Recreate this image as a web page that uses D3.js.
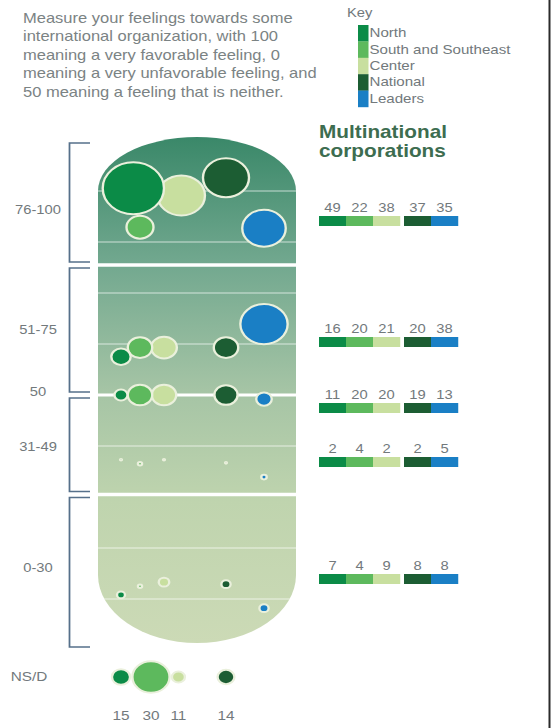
<!DOCTYPE html>
<html>
<head>
<meta charset="utf-8">
<script src="https://cdn.jsdelivr.net/npm/d3@7"></script>
<style>
  html, body { margin: 0; padding: 0; background: #fff; }
  svg { display: block; }
  text { font-family: "Liberation Sans", Arial, Helvetica, sans-serif; }
</style>
</head>
<body>
<svg id="chart" width="553" height="728"></svg>
<script>
// ---- data ---------------------------------------------------------------
const regions = ["North", "South and Southeast", "Center", "National", "Leaders"];
const bands = ["76-100", "51-75", "50", "31-49", "0-30"];

// share of respondents (%) in each feeling band, per region
const northShare    = [49, 16, 11, 2, 7];
const southShare    = [22, 20, 20, 4, 4];
const centerShare   = [38, 21, 20, 2, 9];
const nationalShare = [37, 20, 19, 2, 8];
const leadersShare  = [35, 38, 13, 5, 8];

// mean feeling score of the respondents inside each band
const northScore    = [90.5, 57.5, 50, 37.3, 10.8];
const southScore    = [82.9, 59.3, 50, 36.5, 12.5];
const centerScore   = [89.2, 59.3, 50, 37.3, 13.3];
const nationalScore = [92.6, 59.3, 50, 36.7, 12.9];
const leadersScore  = [82.7, 63.9, 49.2, 33.9, 8.2];

// "no answer / don't know" share per region (leaders: none)
const nsdShare = [15, 30, 11, 14, null];
const nsdLabel = "NS/D";

// band limits on the 0-100 scale and the minor grid
const bandLimits = [[100, 75.5], [75.5, 50], [50, 30.5], [30.5, 0]];
const bandBreaks = [75.5, 50, 30.5];
const gridTicks  = [90, 80, 70, 60, 40, 20, 10];

const questionLines = [
  "Measure your feelings towards some",
  "international organization, with 100",
  "meaning a very favorable feeling, 0",
  "meaning a very unfavorable feeling, and",
  "50 meaning a feeling that is neither."
];
const titleLines = ["Multinational", "corporations"];
const keyTitle = "Key";

// ---- layout -------------------------------------------------------------
const W = 553, H = 728;
const SX = 1.18;                 // horizontal stretch of the whole graphic
const ox = v => v / SX;          // page x -> drawing x

const colors = ["#0b8b47", "#5db95d", "#c8df9f", "#1c5d33", "#1a7fc5"];
const textGrey = "#72797c";
const shares = [northShare, southShare, centerShare, nationalShare, leadersShare];
const scores = [northScore, southScore, centerScore, nationalScore, leadersScore];

const y = d3.scaleLinear().domain([0, 100]).range([650, 140]);
const colX = d3.scaleOrdinal().domain(regions).range([121, 140, 164, 226, 264].map(ox));
const rOuter = d3.scaleLinear().domain([0, 50]).range([0.6, 27.5]);
const color = d3.scaleOrdinal().domain(regions).range(colors);

const rowLabelY = [210, 330, 392, 447, 568];
const barTop    = [216, 337, 403, 457, 574];
const nsdY = 677;

const svg = d3.select("#chart");
const defs = svg.append("defs");
const root = svg.append("g").attr("transform", `scale(${SX},1)`);

// ---- question text ------------------------------------------------------
root.append("g").selectAll("text").data(questionLines).join("text")
  .attr("x", ox(23)).attr("y", (d, i) => 23 + i * 18.5)
  .attr("font-size", 14).attr("fill", "#7b8384").text(d => d);

// ---- key ----------------------------------------------------------------
const key = root.append("g");
key.append("text").attr("x", ox(347)).attr("y", 17)
  .attr("font-size", 12.5).attr("fill", textGrey).text(keyTitle);
const keyRow = key.selectAll("g.row").data(regions).join("g").attr("class", "row");
keyRow.append("rect")
  .attr("x", ox(358)).attr("width", ox(10.5))
  .attr("y", (d, i) => 25 + i * 16.4).attr("height", 16.6)
  .attr("fill", d => color(d));
keyRow.append("text")
  .attr("x", ox(369.5)).attr("y", (d, i) => 25 + i * 16.4 + 12.2)
  .attr("font-size", 12.8).attr("fill", textGrey).text(d => d);

// ---- title --------------------------------------------------------------
root.append("g").selectAll("text").data(titleLines).join("text")
  .attr("x", ox(319)).attr("y", (d, i) => 138 + i * 19.5)
  .attr("font-size", 17.6).attr("font-weight", "bold").attr("fill", "#3d6d50")
  .text(d => d);

// ---- capsule ------------------------------------------------------------
const L = ox(98), R = ox(296);
const capTop = y(100) - 3, capBot = y(0) - 7;
const domeH = 54, baseH = 68;
const rx = (R - L) / 2;
const capPath = `M${L},${capTop + domeH} A${rx},${domeH} 0 0 1 ${R},${capTop + domeH}` +
  ` L${R},${capBot - baseH} A${rx},${baseH} 0 0 1 ${L},${capBot - baseH} Z`;

const grad = defs.append("linearGradient").attr("id", "capGrad")
  .attr("gradientUnits", "userSpaceOnUse")
  .attr("x1", 0).attr("x2", 0).attr("y1", capTop).attr("y2", capBot);
[[0, "#3a8869"], [0.25, "#72a88f"], [0.5, "#a5c4a5"], [0.72, "#bfd4ae"], [1, "#ccdab6"]]
  .forEach(([o, c]) => grad.append("stop").attr("offset", o).attr("stop-color", c));

defs.append("clipPath").attr("id", "capClip").append("path").attr("d", capPath);

root.append("path").attr("d", capPath).attr("fill", "url(#capGrad)");

const grid = root.append("g").attr("clip-path", "url(#capClip)");
grid.selectAll("line.minor").data(gridTicks).join("line").attr("class", "minor")
  .attr("x1", L).attr("x2", R).attr("y1", d => y(d)).attr("y2", d => y(d))
  .attr("stroke", "#ffffff").attr("stroke-opacity", 0.45).attr("stroke-width", 1.4);
grid.selectAll("line.major").data(bandBreaks).join("line").attr("class", "major")
  .attr("x1", L).attr("x2", R).attr("y1", d => y(d)).attr("y2", d => y(d))
  .attr("stroke", "#ffffff").attr("stroke-width", d => d === 50 ? 3 : 3.6);

// ---- brackets and band labels ------------------------------------------
root.append("g").selectAll("path").data(bandLimits).join("path")
  .attr("d", ([hi, lo]) => `M${ox(90)},${y(hi) + 3} H${ox(69.5)} V${y(lo) - 3} H${ox(90)}`)
  .attr("fill", "none").attr("stroke", "#56708a").attr("stroke-width", 1.5);

root.append("g").selectAll("text").data(bands).join("text")
  .attr("x", ox(38)).attr("y", (d, i) => rowLabelY[i] + 4.5)
  .attr("text-anchor", "middle").attr("font-size", 12.5).attr("fill", textGrey)
  .text(d => d);

root.append("text").attr("x", ox(29)).attr("y", nsdY + 4.5)
  .attr("text-anchor", "middle").attr("font-size", 13).attr("fill", textGrey)
  .text(nsdLabel);

// ---- bubble placement -----------------------------------------------------
// inside the capsule: pulled to (region column, mean score), kept apart and inside
function placeBubbles(nodes) {
  const clamp = () => {
    nodes.forEach(n => {
      const lo = L + n.ro + 3, hi = R - n.ro - 3;
      if (n.x < lo) { n.x = lo; n.vx = 0; }
      if (n.x > hi) { n.x = hi; n.vx = 0; }
    });
  };
  const sim = d3.forceSimulation(nodes)
    .force("x", d3.forceX(d => d.cx).strength(0.12))
    .force("y", d3.forceY(d => d.cy).strength(0.9))
    .force("collide", d3.forceCollide(d => d.ro * 0.86).strength(1).iterations(3))
    .force("clamp", clamp)
    .stop();
  for (let i = 0; i < 300; i++) sim.tick();
  clamp();
  return nodes;
}

// single row below the capsule: packed left to right without overlap
function packRow(nodes) {
  let edge = -Infinity;
  nodes.forEach(n => {
    n.x = Math.max(n.cx, edge + n.ro);
    edge = n.x + n.ro;
  });
  return nodes;
}

function drawBubbles(nodes) {
  const order = nodes.slice().sort((a, b) => b.k - a.k);
  root.append("g").selectAll("circle").data(order).join("circle")
    .attr("cx", d => d.x).attr("cy", d => d.y)
    .attr("r", d => Math.max(0.8, d.ro - 1))
    .attr("fill", d => color(d.region))
    .attr("stroke", "#eaf0dc").attr("stroke-width", 2);
}

bands.forEach((band, b) => {
  const nodes = regions.map((region, k) => ({
    region, k,
    value: shares[k][b],
    cx: colX(region), cy: y(scores[k][b]),
    x: colX(region), y: y(scores[k][b]),
    ro: rOuter(shares[k][b])
  }));
  drawBubbles(placeBubbles(nodes));
});

const nsdNodes = regions.map((region, k) => ({
  region, k, value: nsdShare[k],
  cx: colX(region), cy: nsdY, x: colX(region), y: nsdY,
  ro: nsdShare[k] == null ? 0 : rOuter(nsdShare[k])
})).filter(d => d.value != null);
packRow(nsdNodes);
drawBubbles(nsdNodes);
root.append("g").selectAll("text").data(nsdNodes).join("text")
  .attr("x", d => d.x).attr("y", 720)
  .attr("text-anchor", "middle").attr("font-size", 13).attr("fill", textGrey)
  .text(d => d.value);

// ---- value strips on the right ------------------------------------------
const segW = ox(27), segGap = ox(4);
const segX = k => ox(319) + k * segW + (k >= 3 ? segGap : 0);
bands.forEach((band, b) => {
  const g = root.append("g");
  g.selectAll("rect").data(regions).join("rect")
    .attr("x", (d, k) => segX(k)).attr("width", segW + 0.2)
    .attr("y", barTop[b]).attr("height", 10)
    .attr("fill", d => color(d));
  g.selectAll("text").data(regions).join("text")
    .attr("x", (d, k) => segX(k) + segW / 2).attr("y", barTop[b] - 4)
    .attr("text-anchor", "middle").attr("font-size", 12.5).attr("fill", textGrey)
    .text((d, k) => shares[k][b]);
});

// ---- frame edge -----------------------------------------------------------
svg.append("line").attr("x1", 549.5).attr("x2", 549.5).attr("y1", 0).attr("y2", H)
  .attr("stroke", "#2b2b2b").attr("stroke-width", 2);
</script>
</body>
</html>
